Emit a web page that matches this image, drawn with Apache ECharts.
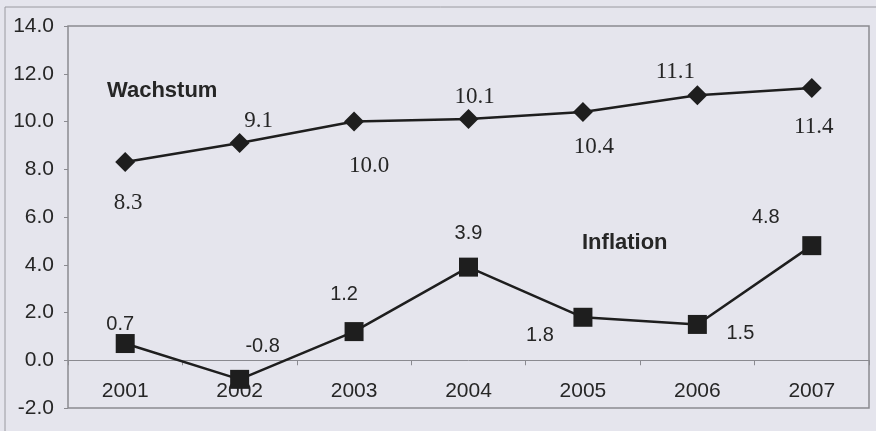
<!DOCTYPE html>
<html>
<head>
<meta charset="utf-8">
<script src="https://cdn.jsdelivr.net/npm/echarts@6/dist/echarts.min.js"></script>
<style>
html,body{margin:0;padding:0;background:#e5e5ed;}
#c{width:876px;height:431px;}
</style>
</head>
<body>
<div id="c"></div>
<script>
const years = ['2001','2002','2003','2004','2005','2006','2007'];
const wachstum = [8.3, 9.1, 10.0, 10.1, 10.4, 11.1, 11.4];
const inflation = [0.7, -0.8, 1.2, 3.9, 1.8, 1.5, 4.8];
const yTicks = [-2, 0, 2, 4, 6, 8, 10, 12, 14];

// label placement (styling only)
const wOff = [[3,41],[19,-22],[15,44],[6,-22],[11,35],[-22,-23],[2,39]];
const iOff = [[-5,-19],[23,-33],[-10,-37],[0,-34],[-43,18],[43,9],[-46,-28]];

const chart = echarts.init(document.getElementById('c'));
const sans = 'Liberation Sans, Arial, sans-serif';
const serif = 'Liberation Serif, Times New Roman, serif';

chart.setOption({
  backgroundColor: '#e5e5ed',
  animation: false,
  grid: {left: 68, right: 7, top: 26, bottom: 23, containLabel: false, outerBoundsMode: 'none',
    show: true, borderColor: '#8a8a90', borderWidth: 1.5, backgroundColor: 'transparent'},
  xAxis: [{
    type: 'category', data: years, boundaryGap: true,
    axisLine: {onZero: true, lineStyle: {color: '#8a8a90', width: 1}},
    axisTick: {show: true, length: 5, lineStyle: {color: '#8a8a90'}},
    axisLabel: {show: false}
  }, {
    type: 'category', data: years, boundaryGap: true, position: 'bottom',
    axisLine: {show: false, onZero: false},
    axisTick: {show: false},
    axisLabel: {inside: true, color: '#262626', fontFamily: sans, fontSize: 21, margin: 6}
  }],
  yAxis: {
    type: 'value', min: -2, max: 14, interval: 2,
    axisLine: {show: false},
    axisTick: {show: true, length: 4, lineStyle: {color: '#8a8a90'}},
    splitLine: {show: false},
    axisLabel: {color: '#262626', fontFamily: sans, fontSize: 21, margin: 14,
      formatter: v => yTicks.includes(v) ? v.toFixed(1) : ''}
  },
  graphic: [
    {type: 'line', shape: {x1: 5, y1: 7, x2: 876, y2: 7}, style: {stroke: '#9a9aa0', lineWidth: 1}, silent: true},
    {type: 'line', shape: {x1: 5, y1: 7, x2: 5, y2: 431}, style: {stroke: '#9a9aa0', lineWidth: 1}, silent: true},
    {type: 'text', left: 107, top: 80, style: {text: 'Wachstum', font: 'bold 22px ' + sans, fill: '#262626'}},
    {type: 'text', left: 582, top: 232, style: {text: 'Inflation', font: 'bold 22px ' + sans, fill: '#262626'}}
  ],
  series: [
    {
      type: 'line', data: wachstum.map((v, i) => ({value: v, label: {offset: wOff[i]}})),
      symbol: 'diamond', symbolSize: 20,
      lineStyle: {color: '#1e1e1e', width: 2.5},
      itemStyle: {color: '#1e1e1e'},
      label: {show: true, position: 'inside', formatter: p => p.value.toFixed(1),
        fontFamily: serif, fontSize: 23, color: '#262626'}
    },
    {
      type: 'line', data: inflation.map((v, i) => ({value: v, label: {offset: iOff[i]}})),
      symbol: 'rect', symbolSize: 19,
      lineStyle: {color: '#1e1e1e', width: 2.5},
      itemStyle: {color: '#1e1e1e'},
      label: {show: true, position: 'inside', formatter: p => p.value.toFixed(1),
        fontFamily: sans, fontSize: 20, color: '#262626'}
    }
  ]
});
</script>
</body>
</html>
